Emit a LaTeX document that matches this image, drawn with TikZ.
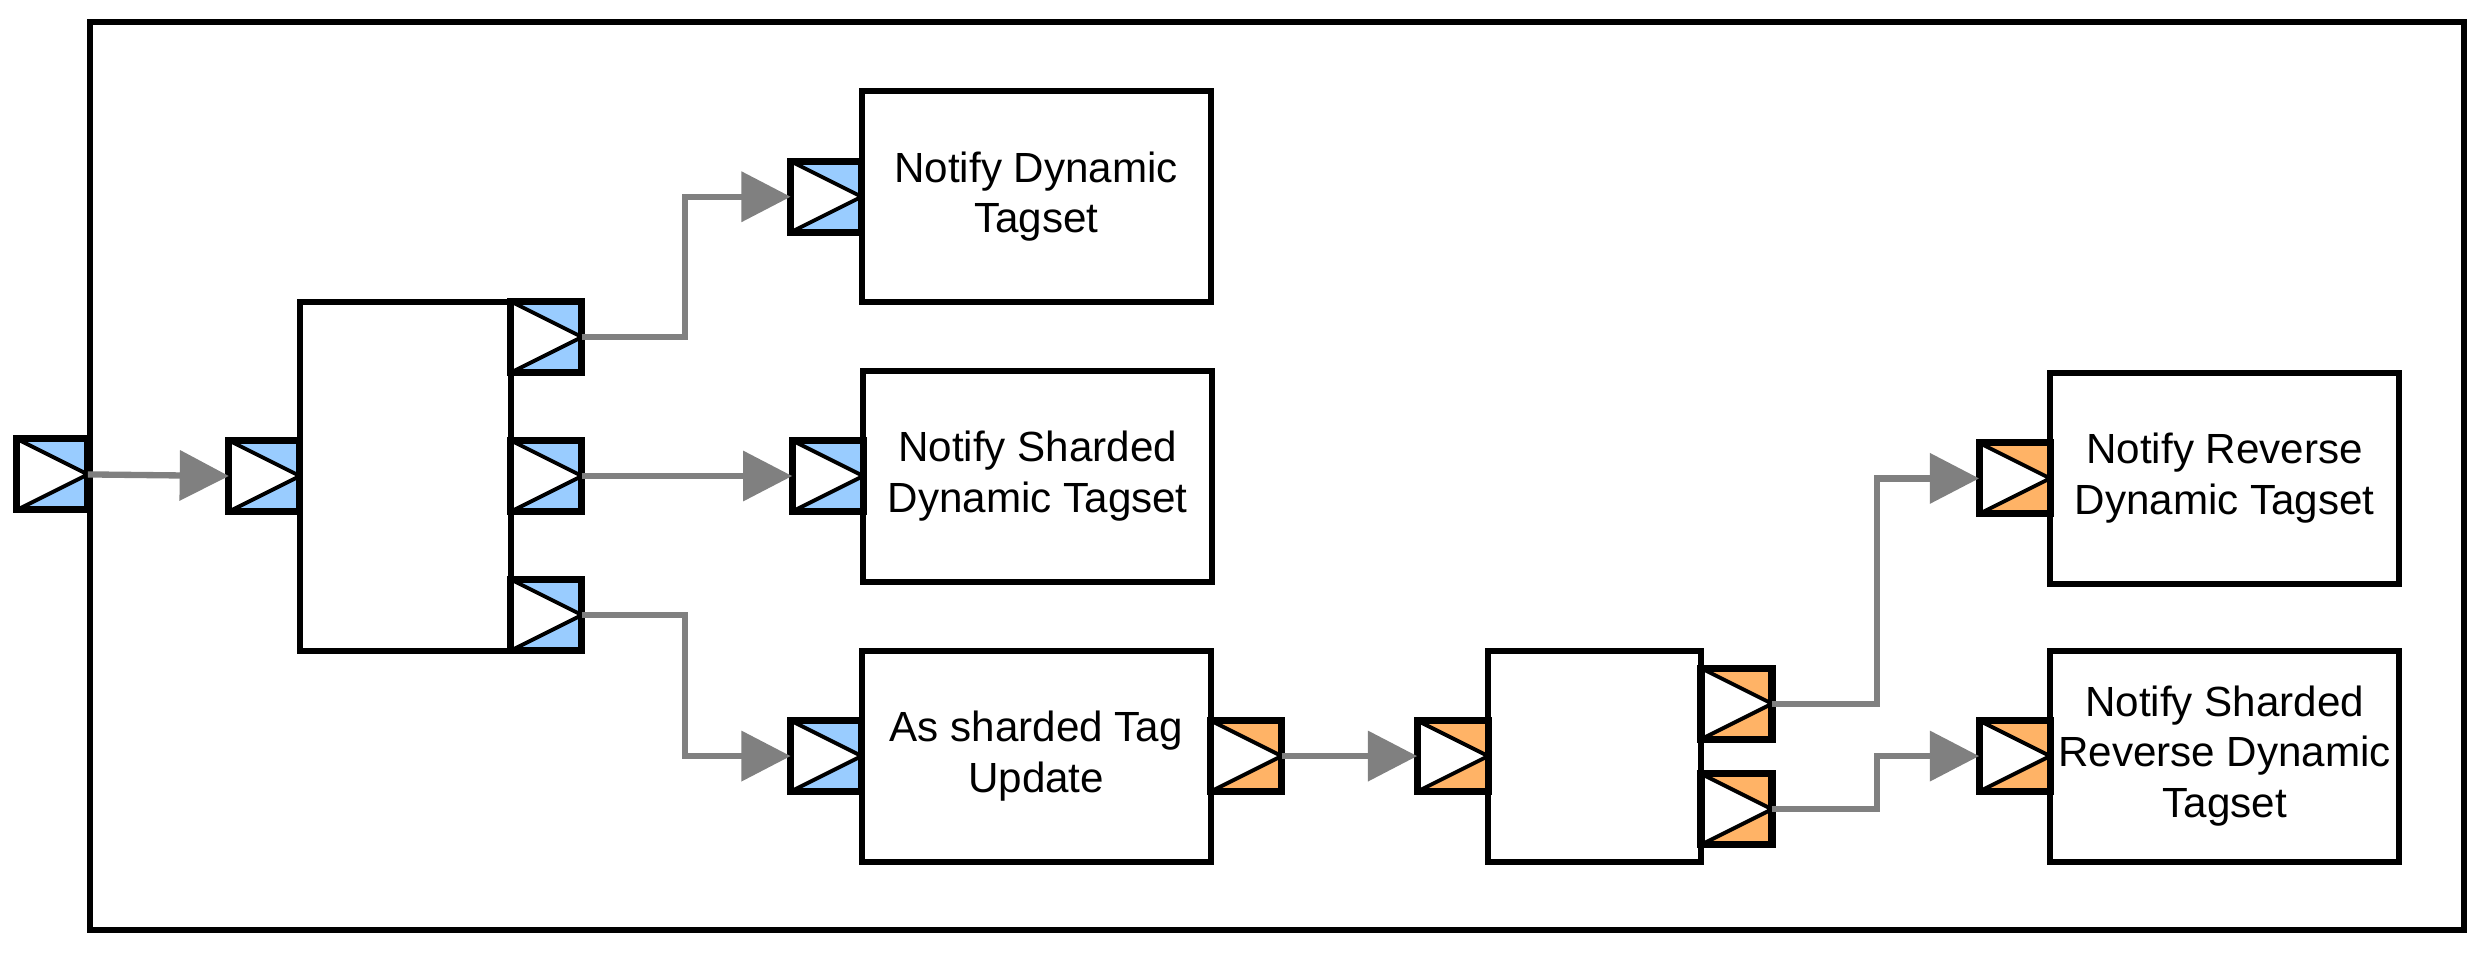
\documentclass[tikz,border=0pt]{standalone}
\usepackage{fontspec}
\setmainfont{Liberation Sans}
\usepackage{xcolor}
\usetikzlibrary{positioning, arrows.meta}
\definecolor{portblue}{HTML}{99CCFF}
\definecolor{portorange}{HTML}{FFB366}
\definecolor{wiregray}{HTML}{808080}

\tikzset{
  stagebox/.style={draw, line width=1.7pt, fill=white, outer sep=0pt,
    minimum width=34.9mm, minimum height=21.1mm, align=center, inner xsep=2pt,
    font=\fontsize{12}{14.4}\selectfont},
  portbox/.style={draw, line width=2pt, fill=#1, outer sep=0pt, inner sep=0pt,
    minimum width=7.1mm, minimum height=7.1mm,
    path picture={\draw[fill=white, line width=1.1pt]
      (path picture bounding box.north west) -- (path picture bounding box.east)
      -- (path picture bounding box.south west) -- cycle;}},
  wire/.style={draw=wiregray, line width=1.8pt,
    -{Triangle[length=14pt, width=14pt]}},
}

\begin{document}
\begin{tikzpicture}[x=0.15867mm, y=-0.15867mm]
  \useasboundingbox (0,0) rectangle (1568,600);
  \draw[line width=1.7pt] (57,14) rectangle (1553,586);

  % fan-out block
  \node[stagebox, minimum width=21.1mm, minimum height=34.9mm] (fanout) at (255.5,300) {};
  \node[portbox=portblue, left=0pt of fanout] (fanin) {};
  \node[portbox=portblue, anchor=north west] (fanA) at (fanout.north east) {};
  \node[portbox=portblue, anchor=west] (fanB) at (fanout.east) {};
  \node[portbox=portblue, anchor=south west] (fanC) at (fanout.south east) {};
  \node[portbox=portblue] (entry) at (33,299) {};

  % targets
  \node[stagebox] (dyn) at (653,124) {Notify Dynamic\\Tagset};
  \node[portbox=portblue, left=0pt of dyn] (dynin) {};
  \node[stagebox] (shdyn) at (654,300) {Notify Sharded\\Dynamic Tagset};
  \node[portbox=portblue, left=0pt of shdyn] (shdynin) {};
  \node[stagebox] (shtag) at (653,476.5) {As sharded Tag\\Update};
  \node[portbox=portblue, left=0pt of shtag] (shtagin) {};
  \node[portbox=portorange, right=0pt of shtag] (shtagout) {};

  % reverse fan-out
  \node[stagebox, minimum width=21.3mm] (revout) at (1005,476.5) {};
  \node[portbox=portorange, left=0pt of revout] (revin) {};
  \node[portbox=portorange, anchor=west] (revA) at (1072,443.5) {};
  \node[portbox=portorange, anchor=west] (revB) at (1072,510) {};
  \node[stagebox] (revdyn) at (1402,301.5) {Notify Reverse\\Dynamic Tagset};
  \node[portbox=portorange, left=0pt of revdyn] (revdynin) {};
  \node[stagebox] (shrevdyn) at (1402,476.5) {Notify Sharded\\Reverse Dynamic\\Tagset};
  \node[portbox=portorange, left=0pt of shrevdyn] (shrevdynin) {};

  % wires
  \draw[wire] (entry.east) -- (fanin.west);
  \draw[wire] (fanA.east) -- ++(65,0) |- (dynin.west);
  \draw[wire] (fanB.east) -- (shdynin.west);
  \draw[wire] (fanC.east) -- ++(65,0) |- (shtagin.west);
  \draw[wire] (shtagout.east) -- (revin.west);
  \draw[wire] (revA.east) -- ++(66,0) |- (revdynin.west);
  \draw[wire] (revB.east) -- ++(66,0) |- (shrevdynin.west);
\end{tikzpicture}
\end{document}
